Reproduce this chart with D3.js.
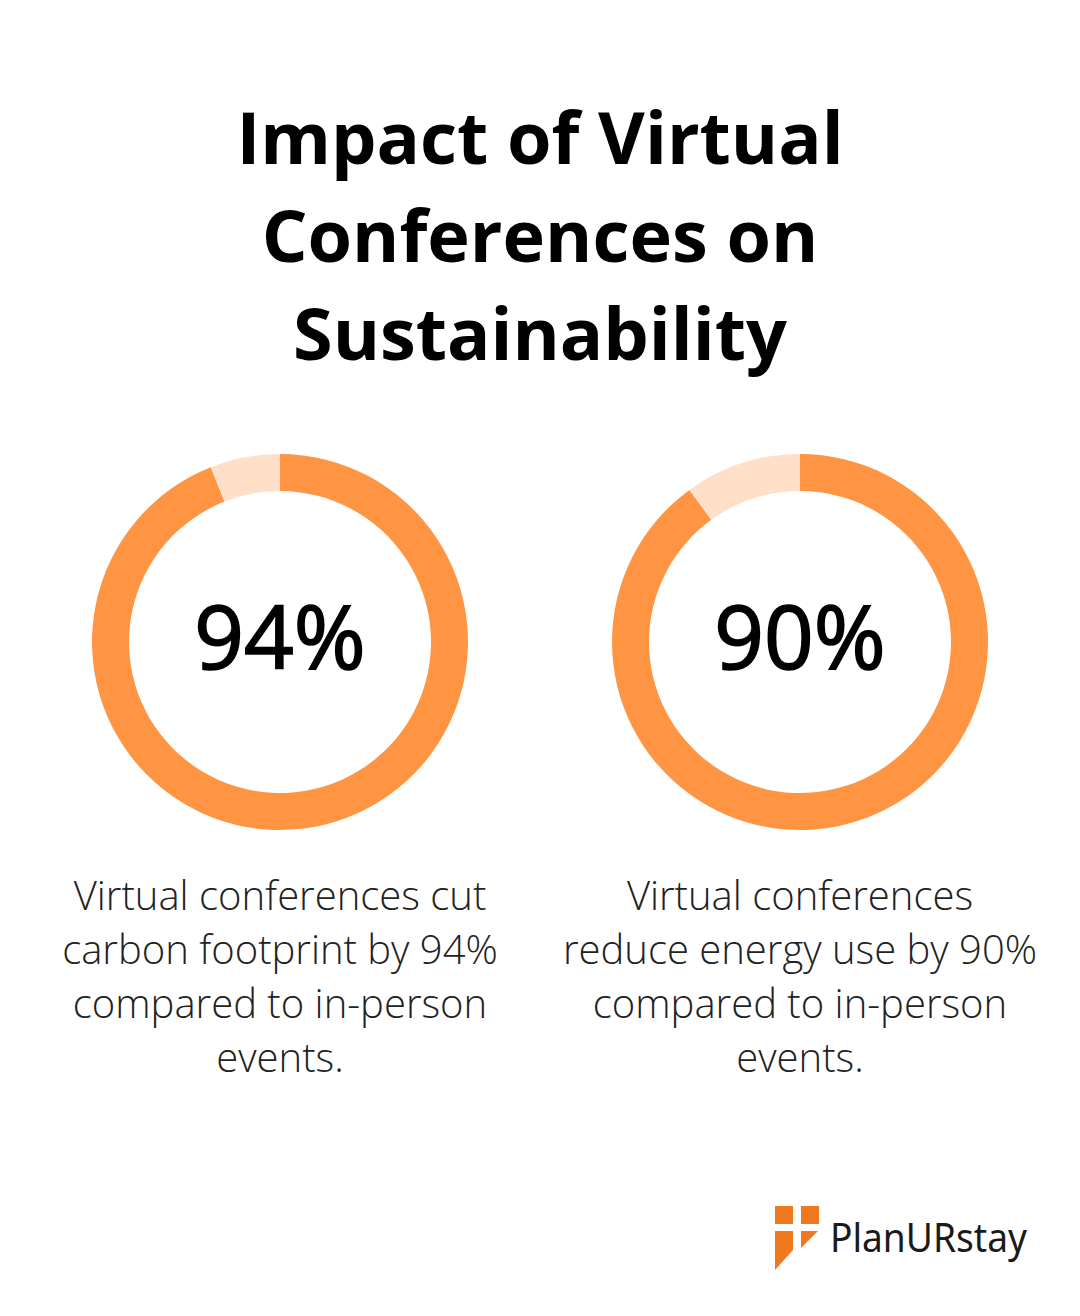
<!DOCTYPE html>
<html><head><meta charset="utf-8">
<script src="https://cdn.jsdelivr.net/npm/d3@7"></script>
<style>html,body{margin:0;padding:0;background:#fff}svg{display:block}</style>
</head><body><svg id="c" width="1080" height="1316"></svg>
<script>
const titleLines = ["Impact of Virtual","Conferences on","Sustainability"];
const values = [94,90];
const captions = [
 ["Virtual conferences cut","carbon footprint by 94%","compared to in-person","events."],
 ["Virtual conferences","reduce energy use by 90%","compared to in-person","events."]];
const svg = d3.select("#c");
const font = "'Open Sans'";
svg.append("rect").attr("width",1080).attr("height",1316).attr("fill","#fff");
svg.selectAll("text.t").data(titleLines).join("text").attr("class","t")
 .attr("x",540).attr("y",(d,i)=>163.5+i*98.3).attr("text-anchor","middle")
 .attr("font-family",font).attr("font-weight",700).attr("font-size",72).attr("fill","#000").text(d=>d);
const cx = d3.scaleOrdinal().domain(values).range([280,800]);
const pie = d3.pie().sort(null);
const arc = d3.arc().innerRadius(151).outerRadius(188);
const g = svg.selectAll("g.d").data(values).join("g").attr("class","d")
 .attr("transform",d=>`translate(${cx(d)},642)`);
g.selectAll("path").data(d=>pie([d,100-d])).join("path").attr("d",arc)
 .attr("fill",(d,i)=>i?"#ffdfc7":"#ff9442");
g.append("text").attr("y",26.5).attr("text-anchor","middle").attr("font-family",font)
 .attr("font-size",87).attr("fill","#000").attr("stroke","#000").attr("stroke-width",1.7).text(d=>d+"%");
svg.selectAll("g.c").data(captions).join("g").attr("class","c")
 .selectAll("text").data((d,i)=>d.map(s=>({s,i}))).join("text")
 .attr("x",d=>[280,800][d.i]).attr("y",(d,j)=>910+j*54).attr("text-anchor","middle")
 .attr("font-family",font).attr("font-weight",300).attr("font-size",40).attr("fill","#222").text(d=>d.s);
// logo
const logo = svg.append("g");
logo.append("path").attr("d","M775 1206h18v18h-18zM801 1206h18v18h-18zM775 1231h18v19l-18 20zM801 1231h17l-17 17z").attr("fill","#f0781f");
logo.append("text").attr("x",830).attr("y",1252).attr("font-family","'Noto Sans'").attr("font-weight",400).attr("font-size",40).attr("fill","#1a1a1a").attr("textLength",197).attr("lengthAdjust","spacingAndGlyphs").text("PlanURstay");
</script></body></html>
